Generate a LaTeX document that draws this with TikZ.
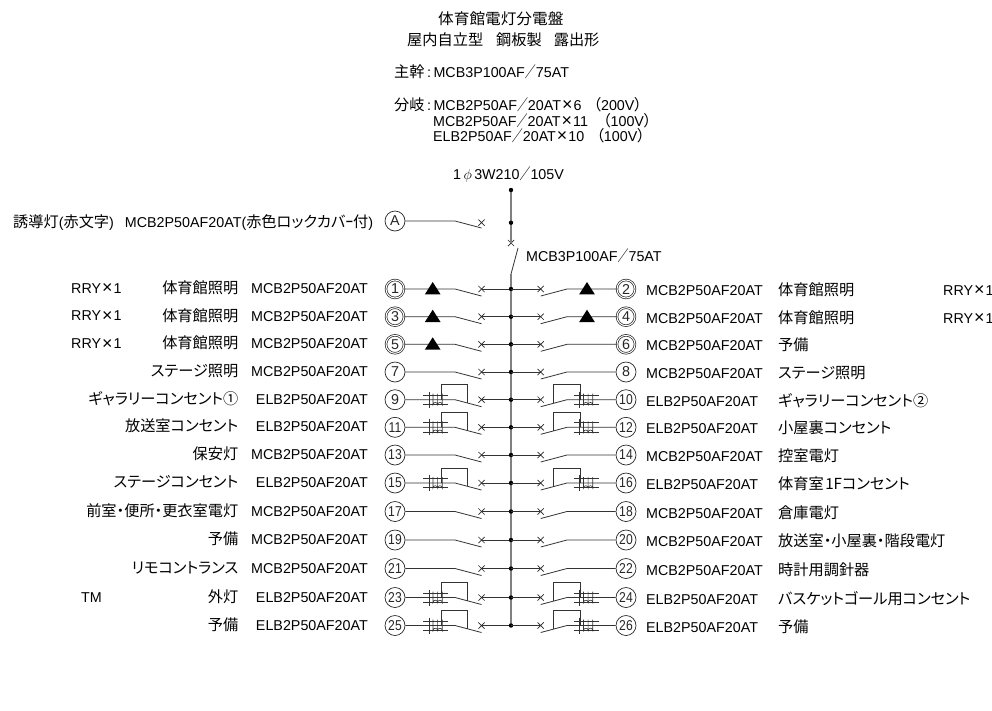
\documentclass[tikz,border=0pt]{standalone}
\usepackage{fontspec}
\usepackage{graphicx}
\setmainfont{Liberation Sans}
\newfontfamily\cjk[Scale=1.063,RawFeature={+palt}]{Noto Sans CJK JP}
\usetikzlibrary{shapes.misc}
\newcommand{\jp}[1]{{\cjk #1}}
\newcommand{\sla}{\scalebox{.72}[1]{\jp{／}}}
\newcommand{\tms}{\hspace{1pt}\raisebox{-.8pt}{\scalebox{1.25}{×}}\hspace{1pt}}
\newcommand{\cln}{\hspace{2.5pt}:\hspace{2.5pt}}
\tikzstyle{panel} = [x = 1pt, y = -1pt, every node/.style={font=\fontsize{14.3}{16}\selectfont, inner sep=0pt}]
\tikzstyle{wire} = [color=black!80, line width=.8pt]
\tikzstyle{busLine} = [color=black!50, line width=2pt]
\tikzstyle{singleNum} = [circle, draw, color=black!85, line width=.7pt, minimum size=20pt]
\tikzstyle{doubleNum} = [singleNum, double, double distance=1pt, minimum size=18pt]
\tikzstyle{breakerCross} = [cross out, draw, color=black!85, line width=.7pt, minimum size=5.5pt]
\tikzstyle{rowText} = [anchor=base east]
\tikzstyle{rowTextRight} = [anchor=base west]
\tikzstyle{headText} = [anchor=base west]
\newcommand{\num}[1]{\ifnum#1>9 \scalebox{.85}[1]{#1}\else #1\fi}
\newcommand{\leftBranch}[5]{
  \node [#5] (c#1) at (395,#2) {\num{#1}};
  \node [breakerCross] (x#1) at (481.5,#2) {};
  \coordinate (p#1) at (455,#2);
  \coordinate (q#1) at (481.5,#2 + 7);
  \coordinate (b#1) at (511,#2);
  \draw [wire] (c#1) -- (p#1) -- (q#1);
  \draw [wire] (x#1.center) -- (b#1);
  \fill (b#1) circle (2.2);
  \node [rowText] (k#1) at (368,#2 + 4.5) {#3};
  \node [rowText] (n#1) at (238.5,#2 + 4.5) {\jp{#4}};
}
\newcommand{\rightBranch}[5]{
  \node [#5] (c#1) at (626,#2) {\num{#1}};
  \node [breakerCross] (x#1) at (540.7,#2) {};
  \coordinate (p#1) at (567,#2);
  \coordinate (q#1) at (540.7,#2 + 7);
  \coordinate (b#1) at (511,#2);
  \draw [wire] (c#1) -- (p#1) -- (q#1);
  \draw [wire] (x#1.center) -- (b#1);
  \node [rowTextRight] (k#1) at (646,#2 + 6.5) {#3};
  \node [rowTextRight] (n#1) at (778,#2 + 6.5) {\jp{#4}};
}
\newcommand{\lampMark}[2]{\fill (#1 - 7.8,#2 + 5.3) -- (#1,#2 - 7) -- (#1 + 7.8,#2 + 5.3) -- cycle;}
\newcommand{\coilMark}[2]{
  \draw [wire, line width=.6pt] (#1 - 1,#2 - 4.7) -- + (25,0);
  \draw [wire, line width=.6pt] (#1 - 1,#2 + 4.7) -- + (25,0);
  \draw [wire, line width=.6pt] (#1 + 5,#2 - 8) -- + (0,16);
  \draw [wire, line width=.6pt] (#1 + 9,#2 - 6) -- + (0,11) arc [start angle=180, end angle=360, radius=2.3] -- + (0,-11);
  \draw [wire, line width=.6pt] (#1 + 13.6,#2 + 5) arc [start angle=180, end angle=360, radius=2.3] -- + (0,-11);
}
\newcommand{\leftELB}[1]{
  \coilMark{424}{#1}
  \draw [wire] (441.7,#1) -- (441.7,#1 - 15) -- (467.7,#1 - 15) -- (467.7,#1 + 3.3);
}
\newcommand{\rightELB}[1]{
  \coilMark{574.5}{#1}
  \draw [wire] (553.3,#1 + 3.6) -- (553.3,#1 - 15) -- (580,#1 - 15) -- (580,#1);
}
\begin{document}
\begin{tikzpicture}[panel]
  \useasboundingbox (0,0) rectangle (992,710);
  \node [headText] (title1) at (438,24.5) {\scalebox{1.03}[1]{\jp{体育館電灯分電盤}}};
  \node [headText] (title2) at (407,45) {\jp{屋内自立型\hspace{13pt}鋼板製\hspace{12pt}露出形}};
  \node [headText] (mainNote) at (394,77) {\jp{主幹}\cln MCB3P100AF\sla75AT};
  \node [headText] (subNote1) at (394,110) {\jp{分岐}\cln MCB2P50AF\sla20AT\tms6\hspace{12pt}\jp{（}200V\jp{）}};
  \node [headText] (subNote2) at (433,126) {MCB2P50AF\sla20AT\tms11\hspace{15pt}\jp{（}100V\jp{）}};
  \node [headText] (subNote3) at (433,141) {ELB2P50AF\sla20AT\tms10\hspace{12pt}\jp{（}100V\jp{）}};
  \node [headText] (supply) at (453,179) {1\,$\phi$\,3W210\sla105V};

  \coordinate (busTop) at (511,190);
  \coordinate (busMid) at (511,222.7);
  \node [breakerCross] (mainCross) at (511,243) {};
  \coordinate (mainOpen) at (518,248);
  \coordinate (busFrom) at (511,274);
  \coordinate (busEnd) at (511,625.5);
  \draw [busLine] (busTop) -- (mainCross.center);
  \draw [busLine] (busFrom) -- (busEnd);
  \draw [wire] (mainOpen) -- (busFrom);
  \fill (busTop) circle (2.2);
  \fill (busMid) circle (2.2);
  \node [headText] (mainLabel) at (526,261) {MCB3P100AF\sla75AT};

  \node [singleNum] (cA) at (395,221) {A};
  \node [breakerCross] (xA) at (481.5,222.7) {};
  \coordinate (pA) at (455,221);
  \coordinate (qA) at (481.5,228);
  \draw [wire] (cA) -- (pA) -- (qA);
  \node [anchor=base west] (labelA) at (13,227) {\jp{誘導灯}(\jp{赤文字})\hspace{11pt}MCB2P50AF20AT(\jp{赤色ロックカバｰ付})};

  \leftBranch{1}{289}{MCB2P50AF20AT}{体育館照明}{doubleNum}
  \leftBranch{3}{316.7}{MCB2P50AF20AT}{体育館照明}{doubleNum}
  \leftBranch{5}{344.3}{MCB2P50AF20AT}{体育館照明}{doubleNum}
  \leftBranch{7}{372}{MCB2P50AF20AT}{ステージ照明}{singleNum}
  \leftBranch{9}{399.7}{ELB2P50AF20AT}{ギャラリーコンセント①}{singleNum}
  \leftBranch{11}{427.3}{ELB2P50AF20AT}{放送室コンセント}{singleNum}
  \leftBranch{13}{455}{MCB2P50AF20AT}{保安灯}{singleNum}
  \leftBranch{15}{483}{ELB2P50AF20AT}{ステージコンセント}{singleNum}
  \leftBranch{17}{511.5}{MCB2P50AF20AT}{前室・便所・更衣室電灯}{singleNum}
  \leftBranch{19}{540}{MCB2P50AF20AT}{予備}{singleNum}
  \leftBranch{21}{568.5}{MCB2P50AF20AT}{リモコントランス}{singleNum}
  \leftBranch{23}{597.5}{ELB2P50AF20AT}{外灯}{singleNum}
  \leftBranch{25}{625.5}{ELB2P50AF20AT}{予備}{singleNum}

  \rightBranch{2}{289}{MCB2P50AF20AT}{体育館照明}{doubleNum}
  \rightBranch{4}{316.7}{MCB2P50AF20AT}{体育館照明}{doubleNum}
  \rightBranch{6}{344.3}{MCB2P50AF20AT}{予備}{doubleNum}
  \rightBranch{8}{372}{MCB2P50AF20AT}{ステージ照明}{singleNum}
  \rightBranch{10}{399.7}{ELB2P50AF20AT}{ギャラリーコンセント②}{singleNum}
  \rightBranch{12}{427.3}{ELB2P50AF20AT}{小屋裏コンセント}{singleNum}
  \rightBranch{14}{455}{MCB2P50AF20AT}{控室電灯}{singleNum}
  \rightBranch{16}{483}{ELB2P50AF20AT}{体育室\hspace{1.5pt}1Fコンセント}{singleNum}
  \rightBranch{18}{511.5}{MCB2P50AF20AT}{倉庫電灯}{singleNum}
  \rightBranch{20}{540}{MCB2P50AF20AT}{放送室・小屋裏・階段電灯}{singleNum}
  \rightBranch{22}{568.5}{MCB2P50AF20AT}{時計用調針器}{singleNum}
  \rightBranch{24}{597.5}{ELB2P50AF20AT}{バスケットゴール用コンセント}{singleNum}
  \rightBranch{26}{625.5}{ELB2P50AF20AT}{予備}{singleNum}

  \lampMark{432.7}{289}
  \lampMark{432.7}{316.7}
  \lampMark{432.7}{344.3}
  \lampMark{587}{289}
  \lampMark{587}{316.7}

  \leftELB{399.7}
  \leftELB{427.3}
  \leftELB{483}
  \leftELB{597.5}
  \leftELB{625.5}
  \rightELB{399.7}
  \rightELB{427.3}
  \rightELB{483}
  \rightELB{597.5}
  \rightELB{625.5}

  \node [headText] (rry1) at (71,293) {RRY\tms 1};
  \node [headText] (rry3) at (71,320.5) {RRY\tms 1};
  \node [headText] (rry5) at (71,348.5) {RRY\tms 1};
  \node [headText] (rry2) at (943,295) {RRY\tms 1};
  \node [headText] (rry4) at (943,323) {RRY\tms 1};
  \node [headText] (tmNote) at (81,602) {TM};
\end{tikzpicture}
\end{document}
